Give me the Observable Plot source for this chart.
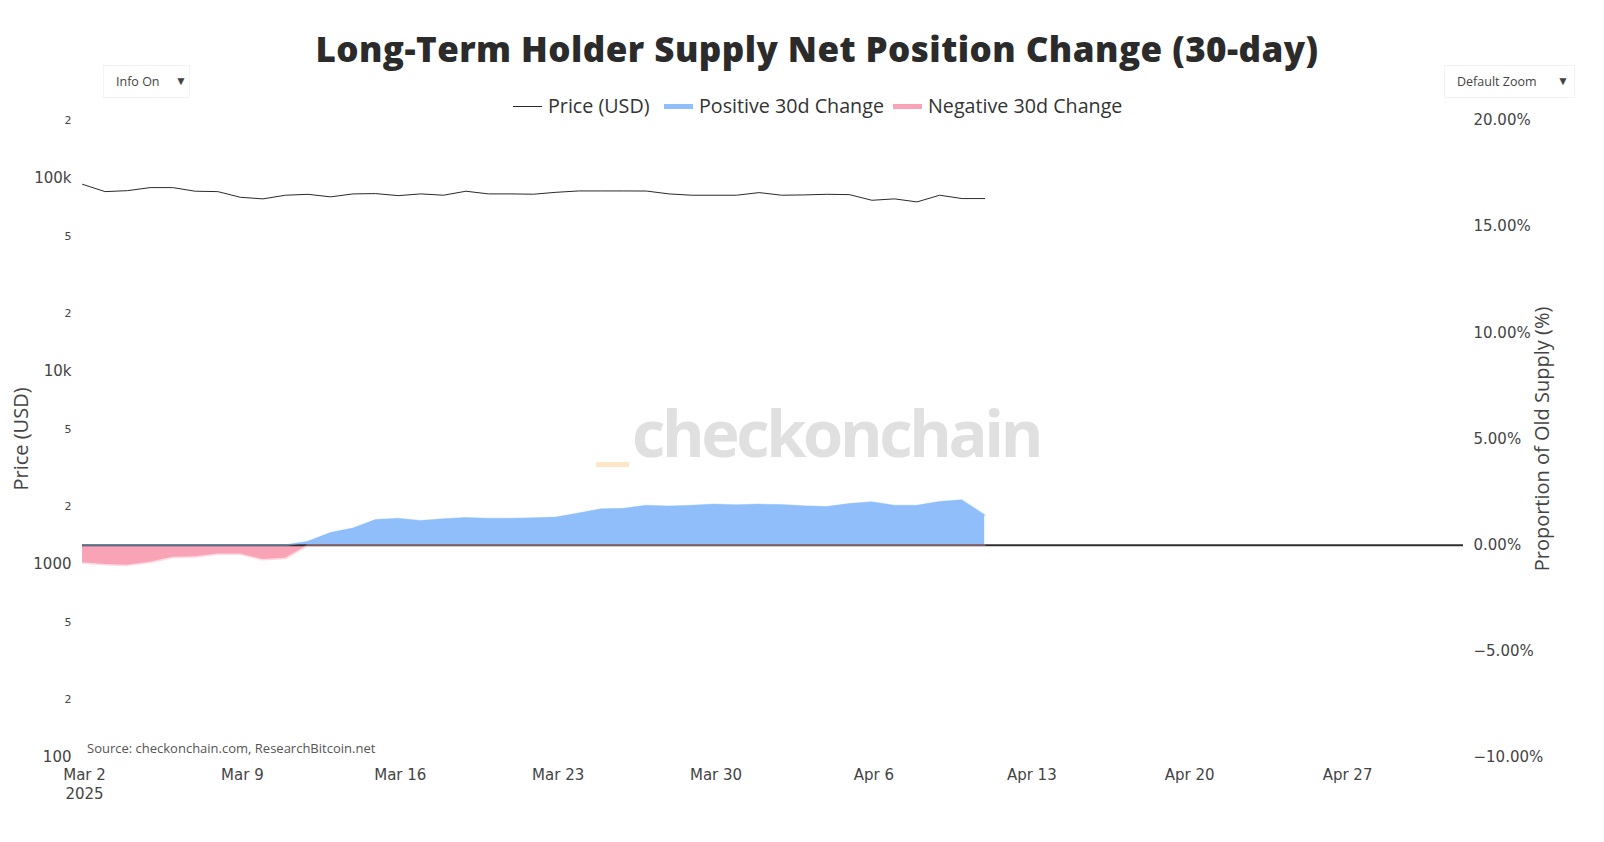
<!DOCTYPE html>
<html>
<head>
<meta charset="utf-8">
<script src="https://cdn.jsdelivr.net/npm/d3@7"></script>
<script src="https://cdn.jsdelivr.net/npm/@observablehq/plot@0.6"></script>
<style>
  html, body { margin: 0; padding: 0; background: #fff; }
  #wrap { position: relative; width: 1604px; height: 842px; overflow: hidden; font-family: "Open Sans", sans-serif; }
  .layer { position: absolute; left: 0; top: 0; }
  .abs { position: absolute; white-space: nowrap; }
  .btn { position: absolute; border: 1px solid #f3f3f3; background: #fff; font-size: 12.5px; color: #444; box-sizing: border-box; }
</style>
</head>
<body>
<div id="wrap">
  <div class="abs" id="title" style="left:0; width:1634px; top:25px; text-align:center; font-weight:800; font-size:35px; color:#2b2b2b;">Long-Term Holder Supply Net Position Change (30-day)</div>

  <div class="btn" style="left:103px; top:65px; width:87px; height:33px;">
    <span class="abs" style="left:12px; top:7px;">Info On</span>
    <span class="abs" style="left:71px; top:6px; font-size:12px;">▼</span>
  </div>
  <div class="btn" style="left:1444px; top:65px; width:131px; height:33px;">
    <span class="abs" style="left:12px; top:7px;">Default Zoom</span>
    <span class="abs" style="left:112px; top:6px; font-size:12px;">▼</span>
  </div>

  <div id="legend"></div>

  <div class="abs" style="left:596px; top:462px; width:33px; height:5px; background:#fde7c6;"></div>
  <div class="abs" id="wm" style="left:632px; top:388px; font-family:'Open Sans',sans-serif; font-weight:700; font-size:65px; color:#e0e0e0;">checkonchain</div>

  <div id="chartA" class="layer"></div>
  <div id="chartB" class="layer"></div>

  <div class="abs" style="left:87px; top:739px; font-size:13px; color:#555;">Source: checkonchain.com, ResearchBitcoin.net</div>
</div>
<script>
// ---------------- data ----------------
const dates = [
  "2025-03-02","2025-03-03","2025-03-04","2025-03-05","2025-03-06","2025-03-07","2025-03-08",
  "2025-03-09","2025-03-10","2025-03-11","2025-03-12","2025-03-13","2025-03-14","2025-03-15",
  "2025-03-16","2025-03-17","2025-03-18","2025-03-19","2025-03-20","2025-03-21","2025-03-22",
  "2025-03-23","2025-03-24","2025-03-25","2025-03-26","2025-03-27","2025-03-28","2025-03-29",
  "2025-03-30","2025-03-31","2025-04-01","2025-04-02","2025-04-03","2025-04-04","2025-04-05",
  "2025-04-06","2025-04-07","2025-04-08","2025-04-09","2025-04-10","2025-04-11"
];
const priceUSD = [
  93400, 85600, 86600, 89800, 89800, 86000, 85600,
  80000, 78500, 82000, 82900, 80400, 83300, 83600,
  81600, 83300, 82000, 86000, 83300, 83300, 83000,
  84900, 86300, 86300, 86300, 86200, 83300, 82000,
  82000, 82000, 84600, 82000, 82300, 82900, 82600,
  77200, 78500, 75700, 82000, 78800, 78800
];
const change30dPct = [
  -0.83, -0.91, -0.94, -0.80, -0.57, -0.54, -0.42,
  -0.42, -0.68, -0.62, 0.16, 0.57, 0.78, 1.19,
  1.24, 1.14, 1.22, 1.28, 1.25, 1.25, 1.27,
  1.30, 1.49, 1.69, 1.71, 1.86, 1.82, 1.86,
  1.92, 1.88, 1.91, 1.89, 1.83, 1.80, 1.94,
  2.02, 1.86, 1.86, 2.03, 2.11, 1.42
];
const xTickDates = ["2025-03-02","2025-03-09","2025-03-16","2025-03-23","2025-03-30","2025-04-06","2025-04-13","2025-04-20","2025-04-27"];
const xDomain = ["2025-03-02T00:00Z", "2025-05-02T05:30Z"];
const priceMajorTicks = [100, 1000, 10000, 100000];
const priceMinorTicks = [200, 500, 2000, 5000, 20000, 50000, 200000];
const priceDomain = [100, 200000];
const pctTicks = [-10, -5, 0, 5, 10, 15, 20];
const pctDomain = [-10, 20];
const seriesNames = ["Price (USD)", "Positive 30d Change", "Negative 30d Change"];
const colors = { price: "#2a2a2a", pos: "#8fbefb", neg: "#f9a3b6", zero: "#2e2e2e" };

// ---------------- build ----------------
const parse = s => new Date(s.length === 10 ? s + "T00:00Z" : s);
const data = dates.map((d, i) => ({ date: parse(d), price: priceUSD[i], v: change30dPct[i] }));
const xTicks = xTickDates.map(parse);
const xdom = xDomain.map(parse);
const months = ["Jan","Feb","Mar","Apr","May","Jun","Jul","Aug","Sep","Oct","Nov","Dec"];
const fmtX = (d, i) => `${months[d.getUTCMonth()]} ${d.getUTCDate()}` + (i === 0 ? `\n${d.getUTCFullYear()}` : "");

const common = {
  width: 1604, height: 842,
  marginLeft: 82, marginRight: 141, marginTop: 120, marginBottom: 85,
  style: { background: "transparent", overflow: "visible", color: "#444", fontFamily: "'DejaVu Sans', Verdana, sans-serif" }
};

// Layer A: areas + right axis + x axis
const plotA = Plot.plot({
  ...common,
  x: { type: "utc", domain: xdom },
  y: { domain: pctDomain },
  marks: [
    Plot.areaY(data, { x: "date", y: d => Math.max(0, d.v), fill: colors.pos }),
    Plot.areaY(data, { x: "date", y: d => Math.min(0, d.v), fill: colors.neg }),
    Plot.ruleY([0], { stroke: colors.zero, strokeWidth: 2 }),
    Plot.lineY(data, { x: "date", y: d => Math.max(0, d.v), stroke: colors.pos, strokeOpacity: 0.45, strokeWidth: 2 }),
    Plot.lineY(data, { x: "date", y: d => Math.min(0, d.v), stroke: colors.neg, strokeOpacity: 0.4, strokeWidth: 2 }),
    Plot.axisY(pctTicks, {
      anchor: "right", tickSize: 0, tickPadding: 10, fontSize: 15, label: null,
      tickFormat: d => (d < 0 ? "\u2212" : "") + Math.abs(d).toFixed(2) + "%"
    }),
    Plot.axisX(xTicks, {
      anchor: "bottom", tickSize: 0, tickPadding: 9, fontSize: 15, lineHeight: 1.25, label: null,
      tickFormat: fmtX, dx: 2
    }),
    Plot.text(["Proportion of Old Supply (%)"], {
      frameAnchor: "right", textAnchor: "middle", rotate: -90, dx: 79, fontSize: 20, fill: "#444",
      fontFamily: "'Open Sans', sans-serif"
    })
  ]
});
document.getElementById("chartA").appendChild(plotA);

// Layer B: price line (log scale) + left axis
const plotB = Plot.plot({
  ...common,
  x: { type: "utc", domain: xdom, axis: null },
  y: { type: "log", domain: priceDomain, axis: null },
  marks: [
    Plot.lineY(data, { x: "date", y: "price", stroke: colors.price, strokeWidth: 1 }),
    Plot.axisY(priceMajorTicks, {
      anchor: "left", tickSize: 0, tickPadding: 11, fontSize: 15, label: null,
      tickFormat: d => d >= 10000 ? (d / 1000) + "k" : String(d)
    }),
    Plot.axisY(priceMinorTicks, {
      anchor: "left", tickSize: 0, tickPadding: 11, fontSize: 11, label: null,
      tickFormat: d => String(d)[0]
    }),
    Plot.text(["Price (USD)"], {
      frameAnchor: "left", textAnchor: "middle", rotate: -90, dx: -61, fontSize: 20, fill: "#444",
      fontFamily: "'Open Sans', sans-serif"
    })
  ]
});
document.getElementById("chartB").appendChild(plotB);

// Legend (HTML)
const legend = document.getElementById("legend");
const items = [
  { name: seriesNames[0], type: "line", color: colors.price, left: 513 },
  { name: seriesNames[1], type: "fill", color: colors.pos, left: 664 },
  { name: seriesNames[2], type: "fill", color: colors.neg, left: 893 }
];
items.forEach(it => {
  const sw = document.createElement("div");
  sw.className = "abs";
  sw.style.left = it.left + "px";
  sw.style.width = "29px";
  if (it.type === "line") {
    sw.style.top = "106px"; sw.style.height = "1px"; sw.style.background = it.color;
  } else {
    sw.style.top = "104px"; sw.style.height = "5px"; sw.style.background = it.color;
  }
  legend.appendChild(sw);
  const tx = document.createElement("div");
  tx.className = "abs";
  tx.style.left = (it.left + 35) + "px";
  tx.style.top = "92px";
  tx.style.fontSize = "19.7px";
  tx.style.color = "#333";
  tx.textContent = it.name;
  legend.appendChild(tx);
});

// Fit text widths to the reference via letter-spacing
const ctx = document.createElement("canvas").getContext("2d");
function fitWidth(id, font, target) {
  const el = document.getElementById(id);
  ctx.font = font;
  const w = ctx.measureText(el.textContent).width;
  const n = el.textContent.length;
  el.style.letterSpacing = ((target - w) / n).toFixed(2) + "px";
}
fitWidth("title", "800 35px 'Open Sans'", 1003);
fitWidth("wm", "700 65px 'Open Sans'", 408);
</script>
</body>
</html>
